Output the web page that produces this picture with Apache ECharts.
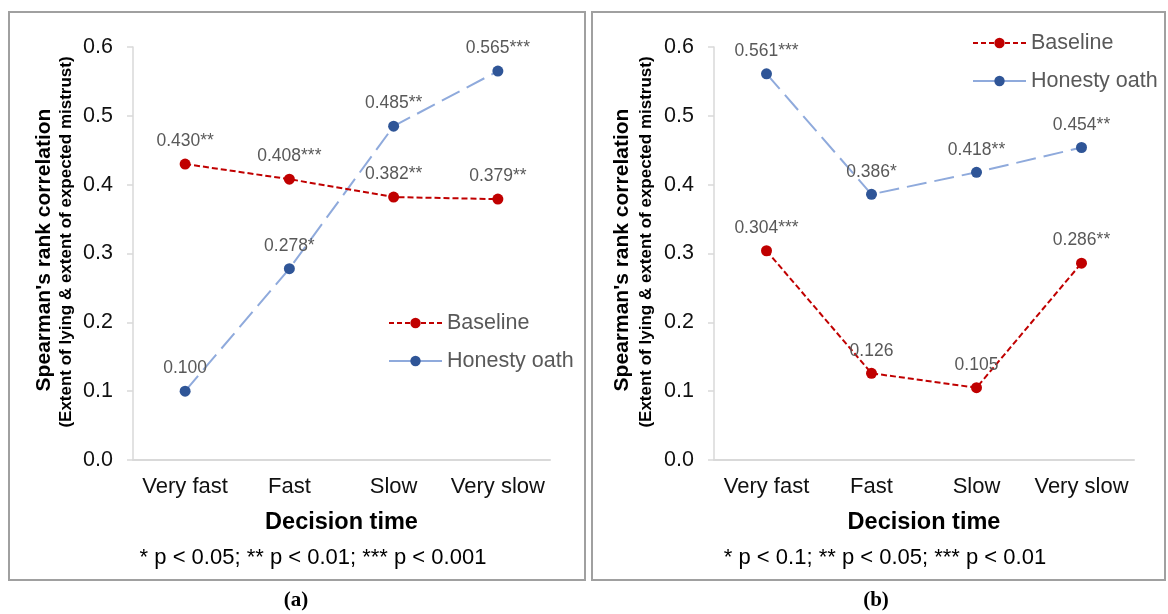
<!DOCTYPE html>
<html>
<head>
<meta charset="utf-8">
<script src="https://cdn.jsdelivr.net/npm/echarts@6/dist/echarts.min.js"></script>
<style>
html,body{margin:0;padding:0;background:#fff;}
#c{width:1168px;height:614px;}
</style>
</head>
<body>
<div id="c"></div>
<script>
const categories = ['Very fast', 'Fast', 'Slow', 'Very slow'];
const yTicks = [0.0, 0.1, 0.2, 0.3, 0.4, 0.5, 0.6];

const aBaseline = [0.430, 0.408, 0.382, 0.379];
const aBaselineLabels = ['0.430**', '0.408***', '0.382**', '0.379**'];
const aOath = [0.100, 0.278, 0.485, 0.565];
const aOathLabels = ['0.100', '0.278*', '0.485**', '0.565***'];

const bBaseline = [0.304, 0.126, 0.105, 0.286];
const bBaselineLabels = ['0.304***', '0.126', '0.105', '0.286**'];
const bOath = [0.561, 0.386, 0.418, 0.454];
const bOathLabels = ['0.561***', '0.386*', '0.418**', '0.454**'];

const footA = '* p < 0.05; ** p < 0.01; *** p < 0.001';
const footB = '* p < 0.1; ** p < 0.05; *** p < 0.01';
const yName1 = "Spearman's rank correlation";
const yName2 = '(Extent of lying & extent of expected mistrust)';
const xName = 'Decision time';

const FONT = "'Liberation Sans', Arial, sans-serif";
const RED = '#c00000';
const BLUE_M = '#2f5597';
const BLUE_L = '#8faadc';
const LABEL_GREY = '#595959';
const AXIS_GREY = '#d9d9d9';

function xAxis(gi) {
  return {
    type: 'category', gridIndex: gi, data: categories, boundaryGap: true,
    axisLine: {show: true, lineStyle: {color: AXIS_GREY, width: 2}},
    axisTick: {show: false},
    axisLabel: {fontSize: 22, color: '#111', fontFamily: FONT, margin: 16, interval: 0},
    name: xName, nameLocation: 'middle', nameGap: 51,
    nameTextStyle: {fontSize: 23.5, fontWeight: 'bold', color: '#000', fontFamily: FONT}
  };
}
function yAxis(gi) {
  return {
    type: 'value', gridIndex: gi, min: yTicks[0], max: yTicks[yTicks.length - 1], interval: 0.1,
    axisLine: {show: true, lineStyle: {color: AXIS_GREY, width: 1.5}},
    axisTick: {show: true, length: 6, lineStyle: {color: AXIS_GREY, width: 1.5}},
    splitLine: {show: false},
    axisLabel: {fontSize: 21.5, color: '#111', fontFamily: FONT, margin: 20,
      formatter: v => v.toFixed(1)}
  };
}
function labelOf(arr) {
  return {show: true, position: 'top', distance: 8, fontSize: 17.5, color: LABEL_GREY,
    fontFamily: FONT, formatter: p => arr[p.dataIndex]};
}
function baseSeries(gi, data, labels) {
  return {
    name: 'Baseline', type: 'line', xAxisIndex: gi, yAxisIndex: gi, data: data,
    symbol: 'circle', symbolSize: 11,
    itemStyle: {color: RED},
    lineStyle: {color: RED, width: 2, type: [6, 3]},
    label: labelOf(labels), z: 3
  };
}
function oathSeries(gi, data, labels) {
  return {
    name: 'Honesty oath', type: 'line', xAxisIndex: gi, yAxisIndex: gi, data: data,
    symbol: 'circle', symbolSize: 11,
    itemStyle: {color: BLUE_M},
    lineStyle: {color: BLUE_L, width: 2, type: [20, 8]},
    label: labelOf(labels), z: 2
  };
}
function legend(left, top) {
  return {
    left: left, top: top, orient: 'vertical', itemGap: 16, itemWidth: 53, itemHeight: 13,
    data: [
      {name: 'Baseline', lineStyle: {type: [5, 3]}},
      {name: 'Honesty oath', lineStyle: {type: 'solid'}}
    ],
    textStyle: {fontSize: 21.5, color: LABEL_GREY, fontFamily: FONT}
  };
}
function vtext(x, y, text, size) {
  return {type: 'text', x: x, y: y, rotation: Math.PI / 2,
    style: {text: text, fontSize: size, fontWeight: 'bold', fontFamily: FONT, fill: '#000',
      align: 'center', verticalAlign: 'middle'}};
}
function htext(x, y, text, size, extra) {
  return {type: 'text', x: x, y: y,
    style: Object.assign({text: text, fontSize: size, fontFamily: FONT, fill: '#000',
      align: 'center', verticalAlign: 'middle'}, extra || {})};
}

const chart = echarts.init(document.getElementById('c'), null, {renderer: 'canvas'});
chart.setOption({
  backgroundColor: '#fff',
  animation: false,
  grid: [
    {left: 133, right: 618, top: 47, bottom: 154},
    {left: 714, right: 34, top: 47, bottom: 154}
  ],
  xAxis: [xAxis(0), xAxis(1)],
  yAxis: [yAxis(0), yAxis(1)],
  legend: [legend(383, 307), legend(967, 27)],
  series: [
    baseSeries(0, aBaseline, aBaselineLabels),
    oathSeries(0, aOath, aOathLabels),
    baseSeries(1, bBaseline, bBaselineLabels),
    oathSeries(1, bOath, bOathLabels)
  ],
  graphic: [
    {type: 'rect', shape: {x: 9, y: 12, width: 576, height: 568},
      style: {fill: null, stroke: '#a0a0a0', lineWidth: 2}, silent: true},
    {type: 'rect', shape: {x: 592, y: 12, width: 573, height: 568},
      style: {fill: null, stroke: '#a0a0a0', lineWidth: 2}, silent: true},
    vtext(44, 250, yName1, 21),
    vtext(66, 242, yName2, 17),
    vtext(622, 250, yName1, 21),
    vtext(646, 242, yName2, 17),
    htext(313, 558, footA, 22),
    htext(885, 558, footB, 22),
    htext(296, 601, '(a)', 21, {fontWeight: 'bold', fontFamily: "'Liberation Serif', 'Times New Roman', serif"}),
    htext(876, 601, '(b)', 21, {fontWeight: 'bold', fontFamily: "'Liberation Serif', 'Times New Roman', serif"})
  ]
});
</script>
</body>
</html>
